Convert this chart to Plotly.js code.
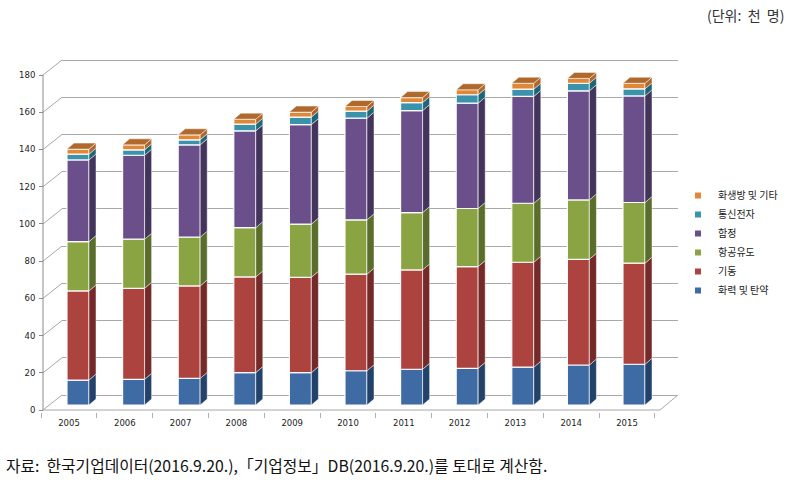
<!DOCTYPE html>
<html><head><meta charset="utf-8">
<script src="https://cdn.plot.ly/plotly-3.0.1.min.js"></script>
<style>html,body{margin:0;padding:0;background:#fff}#chart{width:809px;height:491px}</style>
</head><body><div id="chart"></div>
<script>
// ---- data (천 명) ----
const years = ['2005','2006','2007','2008','2009','2010','2011','2012','2013','2014','2015'];
const firepower = [13.4,13.8,14.3,17.4,17.4,18.4,19.2,19.7,20.3,21.5,21.9];   // 화력 및 탄약
const maneuver  = [47.9,48.9,49.7,51.4,51.2,51.9,53.4,54.7,56.4,56.8,54.3];   // 기동
const aerospace = [26.5,26.4,26.2,26.5,28.6,29.2,30.8,31.2,31.7,31.9,32.6];   // 항공유도
const naval     = [43.9,45.1,49.6,52.0,53.5,54.6,54.8,56.6,57.4,58.6,57.3];   // 함정
const comms     = [3.1,2.9,2.7,3.6,4.0,3.8,4.3,4.5,3.9,4.1,3.8];              // 통신전자
const cbrOther  = [2.7,2.7,2.7,2.7,2.7,2.5,2.7,2.7,3.2,2.6,3.0];              // 화생방 및 기타
const seriesNames = ['화력 및 탄약','기동','항공유도','함정','통신전자','화생방 및 기타'];
const yTicks = [0,20,40,60,80,100,120,140,160,180];

// ---- styles ----
const frontColors = ['#3F6BA4','#AC433F','#8AA443','#6A4F8A','#3A93AA','#E08838'];
const sideColors  = ['#22426A','#732A29','#5A6D2B','#43345C','#1D6678','#B0662A'];
const topColor = '#B0692C';
const W = 809, H = 491;
const fx = p => p / W, fy = p => 1 - p / H;
const PX_PER_UNIT = 1.861;
const TOP = 55, BOT = 412;
const rng = zeroPx => [-(BOT - zeroPx) / PX_PER_UNIT, (zeroPx - TOP) / PX_PER_UNIT];
const barW = 0.396;                 // in category units
const dx = 7 / 55.6, dy = 6 / PX_PER_UNIT;

const allSeries = [firepower, maneuver, aerospace, naval, comms, cbrOther];
const idx = years.map((_, i) => i);

const traces = [];
// back wall grid subplot (dummy)
traces.push({x:[null], y:[null], xaxis:'x', yaxis:'y', type:'scatter', mode:'markers', showlegend:false, hoverinfo:'skip'});

// bars + 3D side faces
let base = years.map(() => 0);
allSeries.forEach((vals, s) => {
  traces.push({
    type:'bar', x: idx, y: vals, base: base.slice(), width: barW,
    xaxis:'x2', yaxis:'y2', name: seriesNames[s], showlegend:false, legendgroup:'g'+s,
    marker:{color: frontColors[s], line:{color:'rgba(255,255,255,0.95)', width:1.2}},
    hoverinfo:'y+name'
  });
  const px = [], py = [];
  idx.forEach(i => {
    const xr = i + barW / 2, y0 = base[i], y1 = base[i] + vals[i];
    px.push(xr, xr + dx, xr + dx, xr, xr, null);
    py.push(y0, y0 + dy, y1 + dy, y1, y0, null);
  });
  traces.push({type:'scatter', mode:'lines', x:px, y:py, fill:'toself', fillcolor: sideColors[s],
    line:{color:'rgba(255,255,255,0.6)', width:0.8}, xaxis:'x2', yaxis:'y2', showlegend:false, hoverinfo:'skip'});
  base = base.map((b, i) => b + vals[i]);
});
// top faces
{
  const px = [], py = [];
  idx.forEach(i => {
    const xl = i - barW / 2, xr = i + barW / 2, t = base[i];
    px.push(xl, xl + dx, xr + dx, xr, xl, null);
    py.push(t, t + dy, t + dy, t, t, null);
  });
  traces.push({type:'scatter', mode:'lines', x:px, y:py, fill:'toself', fillcolor: topColor,
    line:{color:'rgba(255,255,255,0.6)', width:0.8}, xaxis:'x2', yaxis:'y2', showlegend:false, hoverinfo:'skip'});
}
// legend entries (top to bottom)
for (let s = allSeries.length - 1; s >= 0; s--) {
  traces.push({type:'scatter', mode:'markers', x:[null], y:[null], xaxis:'x2', yaxis:'y2',
    name: seriesNames[s], legendgroup:'g'+s,
    marker:{symbol:'square', size:6, color: frontColors[s]}});
}
// front label axes (dummy)
traces.push({x: years, y:[null,null,null,null,null,null,null,null,null,null,null], xaxis:'x3', yaxis:'y3', type:'scatter', mode:'markers', showlegend:false, hoverinfo:'skip'});

const gridColor = '#A8A8A8';
const shapes = [];
yTicks.forEach(v => {
  shapes.push({type:'line', xref:'paper', yref:'y3', x0: fx(43), x1: fx(62), y0: v, y1: v + 15 / PX_PER_UNIT,
    line:{color: gridColor, width:1}, layer:'below'});
});
shapes.push({type:'line', xref:'paper', yref:'y3', x0: fx(43), x1: fx(43), y0: 0, y1: 180, line:{color:'#8C8C8C', width:1}, layer:'below'});
shapes.push({type:'line', xref:'paper', yref:'y3', x0: fx(43), x1: fx(660), y0: 0, y1: 0, line:{color:gridColor, width:1}, layer:'below'});
shapes.push({type:'line', xref:'paper', yref:'y3', x0: fx(660), x1: fx(678), y0: 0, y1: 15 / PX_PER_UNIT, line:{color:gridColor, width:1}, layer:'below'});

const tickFont = {family:'DejaVu Sans, Verdana, sans-serif', size:8.5, color:'#222'};
const layout = {
  width: W, height: H,
  margin:{l:0, r:0, t:0, b:0, pad:0},
  paper_bgcolor:'#fff', plot_bgcolor:'rgba(0,0,0,0)',
  showlegend:true,
  barmode:'overlay',
  xaxis:{domain:[fx(62), fx(678)], range:[0,1], visible:false, fixedrange:true},
  yaxis:{domain:[fy(BOT), fy(TOP)], range: rng(395), tickmode:'array', tickvals: yTicks,
         showticklabels:false, showgrid:true, gridcolor: gridColor, gridwidth:1, zeroline:false, ticks:'', showline:false},
  xaxis2:{domain:[fx(50.2), fx(661.8)], range:[-0.5, 10.5], visible:false, anchor:'y2'},
  yaxis2:{domain:[fy(BOT), fy(TOP)], range: rng(405), visible:false, anchor:'x2'},
  xaxis3:{domain:[fx(41.1), fx(654.9)], type:'category', categoryorder:'array', categoryarray: years,
          range:[-0.5, 10.5], anchor:'y3', tickson:'boundaries', ticks:'outside', ticklen:5, tickcolor:'#B0B0B0',
          showgrid:false, zeroline:false, showline:false, tickfont: tickFont, ticklabelstandoff:4},
  yaxis3:{domain:[fy(BOT), fy(TOP)], range: rng(410), anchor:'free', position: fx(43), side:'left',
          tickmode:'array', tickvals: yTicks, ticks:'outside', ticklen:4, tickcolor:'#8C8C8C',
          showgrid:false, zeroline:false, showline:false, tickfont: tickFont, ticklabelstandoff:2},
  legend:{x: fx(678), y: fy(181), xanchor:'left', yanchor:'top', traceorder:'normal',
          font:{family:'Noto Sans CJK KR, sans-serif', size:10, color:'#222'},
          bgcolor:'rgba(0,0,0,0)', tracegroupgap:0, itemwidth:30},
  shapes: shapes,
  annotations:[
    {text:'(단위:  천  명)', xref:'paper', yref:'paper', x: fx(786), y: fy(15), xanchor:'right', yanchor:'middle',
     showarrow:false, font:{family:'Noto Sans CJK KR, sans-serif', size:14, color:'#333'}},
    {text:'자료:  한국기업데이터(2016.9.20.),「기업정보」DB(2016.9.20.)를 토대로 계산함.', xref:'paper', yref:'paper',
     x: fx(4), y: fy(465), xanchor:'left', yanchor:'middle', showarrow:false,
     font:{family:'Noto Sans CJK KR, sans-serif', size:15.8, color:'#111'}}
  ]
};
Plotly.newPlot('chart', traces, layout, {displayModeBar:false, staticPlot:true});
</script>
</body></html>
